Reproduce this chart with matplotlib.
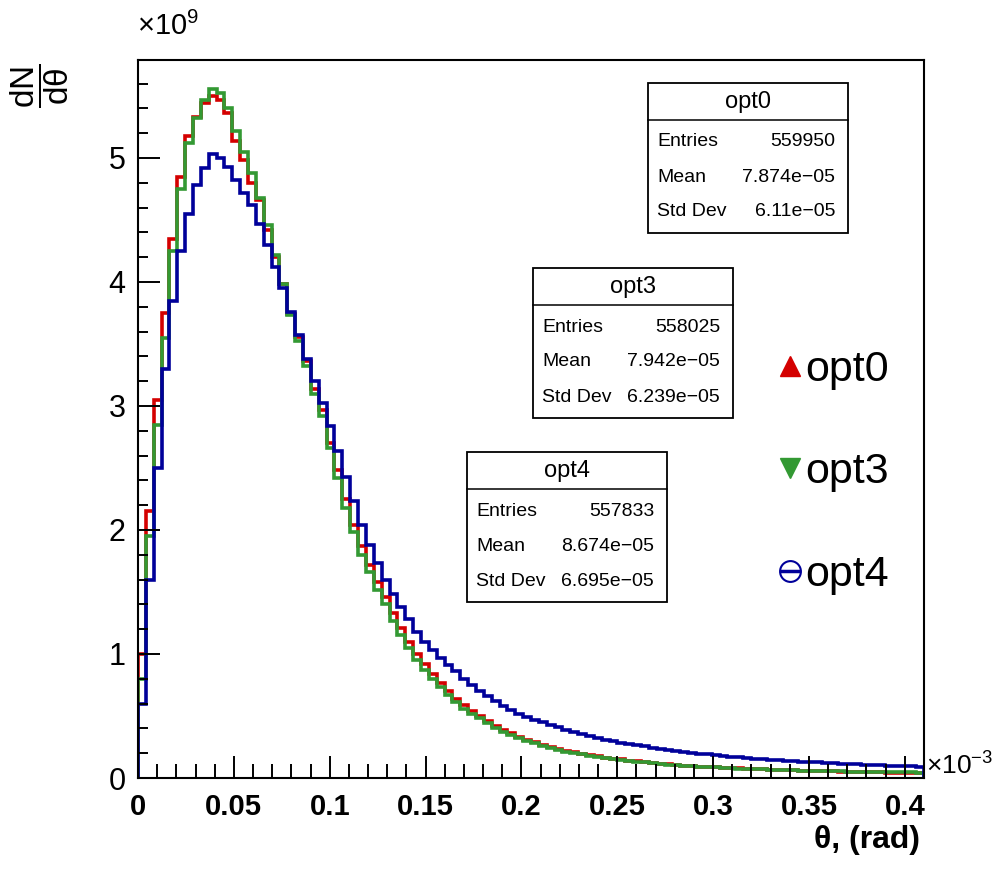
import numpy as np
import matplotlib
matplotlib.use('Agg')
import matplotlib.pyplot as plt
from matplotlib.lines import Line2D
from matplotlib.patches import Rectangle
from matplotlib.ticker import MultipleLocator, FormatStrFormatter

# theta range in units of 1e-3 rad, counts in units of 1e9
theta_lo = 0.0
theta_hi = 0.41
n_bins = 100

opt0 = [1.00, 2.15, 3.05, 3.75, 4.35, 4.85, 5.18, 5.33, 5.44, 5.50,
        5.47, 5.36, 5.14, 4.98, 4.80, 4.66, 4.42, 4.20, 3.98, 3.74,
        3.56, 3.36, 3.14, 2.97, 2.70, 2.48, 2.25, 2.04, 1.87, 1.72,
        1.58, 1.46, 1.33, 1.21, 1.10, 1.00, 0.92, 0.84, 0.77, 0.70,
        0.64, 0.59, 0.54, 0.50, 0.46, 0.42, 0.39, 0.36, 0.33, 0.31,
        0.29, 0.27, 0.25, 0.235, 0.22, 0.21, 0.195, 0.185, 0.175, 0.165,
        0.155, 0.15, 0.14, 0.135, 0.13, 0.12, 0.115, 0.11, 0.105, 0.10,
        0.098, 0.092, 0.09, 0.086, 0.082, 0.08, 0.077, 0.074, 0.072, 0.07,
        0.068, 0.066, 0.063, 0.062, 0.06, 0.058, 0.056, 0.055, 0.053, 0.052,
        0.05, 0.049, 0.047, 0.046, 0.045, 0.044, 0.043, 0.042, 0.041, 0.04]

opt3 = [0.80, 1.95, 2.85, 3.55, 4.25, 4.75, 5.12, 5.32, 5.47, 5.56,
        5.52, 5.40, 5.22, 5.05, 4.88, 4.68, 4.46, 4.22, 3.98, 3.73,
        3.52, 3.32, 3.10, 2.92, 2.66, 2.42, 2.18, 1.98, 1.80, 1.66,
        1.52, 1.40, 1.27, 1.15, 1.05, 0.95, 0.87, 0.80, 0.73, 0.67,
        0.61, 0.56, 0.52, 0.48, 0.44, 0.40, 0.37, 0.345, 0.32, 0.30,
        0.28, 0.26, 0.24, 0.225, 0.21, 0.20, 0.19, 0.18, 0.17, 0.16,
        0.152, 0.145, 0.138, 0.13, 0.125, 0.118, 0.112, 0.108, 0.103, 0.099,
        0.095, 0.091, 0.088, 0.085, 0.082, 0.079, 0.076, 0.074, 0.071, 0.069,
        0.067, 0.065, 0.063, 0.061, 0.06, 0.058, 0.057, 0.055, 0.054, 0.053,
        0.052, 0.051, 0.05, 0.049, 0.048, 0.047, 0.046, 0.046, 0.045, 0.044]

opt4 = [0.60, 1.60, 2.50, 3.30, 3.85, 4.25, 4.55, 4.78, 4.92, 5.03,
        5.00, 4.93, 4.82, 4.72, 4.62, 4.47, 4.30, 4.12, 3.95, 3.76,
        3.57, 3.38, 3.20, 3.02, 2.84, 2.64, 2.43, 2.23, 2.04, 1.88,
        1.73, 1.60, 1.48, 1.38, 1.28, 1.18, 1.10, 1.03, 0.97, 0.91,
        0.86, 0.80, 0.75, 0.70, 0.66, 0.62, 0.58, 0.55, 0.52, 0.49,
        0.47, 0.45, 0.43, 0.41, 0.39, 0.37, 0.355, 0.34, 0.325, 0.31,
        0.30, 0.285, 0.275, 0.265, 0.255, 0.245, 0.235, 0.225, 0.218, 0.21,
        0.203, 0.196, 0.19, 0.184, 0.178, 0.172, 0.167, 0.162, 0.157, 0.153,
        0.148, 0.144, 0.14, 0.136, 0.132, 0.128, 0.125, 0.122, 0.119, 0.116,
        0.113, 0.11, 0.107, 0.104, 0.102, 0.10, 0.098, 0.096, 0.094, 0.092]

names = ['opt0', 'opt3', 'opt4']
entries = ['559950', '558025', '557833']
means = ['7.874e\u221205', '7.942e\u221205', '8.674e\u221205']
stddevs = ['6.11e\u221205', '6.239e\u221205', '6.695e\u221205']
colors = ['#d40000', '#339933', '#00009a']

plt.rcParams['font.family'] = ['Liberation Sans', 'DejaVu Sans']
plt.rcParams['mathtext.fontset'] = 'custom'
plt.rcParams['mathtext.rm'] = 'Liberation Sans'
plt.rcParams['mathtext.it'] = 'Liberation Sans'

W, H = 1000, 888
fig = plt.figure(figsize=(W / 100, H / 100), dpi=100)
ax = fig.add_axes([138 / W, 1 - 778 / H, 786 / W, 718 / H])

edges = np.linspace(theta_lo, theta_hi, n_bins + 1)
for vals, c in zip([opt0, opt3, opt4], colors):
    ax.stairs(vals, edges, color=c, lw=2.6)

ax.set_xlim(theta_lo, theta_hi)
ax.set_ylim(0, 5.79)

ax.xaxis.set_major_locator(MultipleLocator(0.05))
ax.xaxis.set_minor_locator(MultipleLocator(0.01))
ax.xaxis.set_major_formatter(FormatStrFormatter('%g'))
ax.yaxis.set_major_locator(MultipleLocator(1))
ax.yaxis.set_minor_locator(MultipleLocator(0.2))
ax.tick_params(which='both', direction='in', top=False, right=False, width=1.4, colors='black')
ax.tick_params(axis='x', which='major', length=16, labelsize=21, pad=11)
ax.tick_params(axis='x', which='minor', length=10)
ax.tick_params(axis='y', which='major', length=16, labelsize=22, pad=9)
ax.tick_params(axis='y', which='minor', length=7)
for lab in ax.get_xticklabels():
    lab.set_fontweight('bold')
for s in ax.spines.values():
    s.set_linewidth(1.5)

# exponent labels like ROOT
fig.text(137 / W, 1 - 26 / H, '\u00d710$^{9}$', fontsize=21, ha='left', va='center')
fig.text(926 / W, 1 - 766 / H, '\u00d710$^{\u22123}$', fontsize=19, ha='left', va='center')

# axis titles
fig.text(40 / W, 1 - 86 / H, r'$\dfrac{\mathrm{dN}}{\mathrm{d}\theta}$', fontsize=24,
         rotation=90, ha='center', va='center')
fig.text(920 / W, 1 - 840 / H, '\u03b8, (rad)', fontsize=23, fontweight='bold',
         ha='right', va='center')

# stats boxes
def stats_box(x0, y0, title, ent, mean, std):
    w, h = 200, 150
    fig.add_artist(Rectangle((x0 / W, 1 - (y0 + h) / H), w / W, h / H,
                             transform=fig.transFigure, fc='white', ec='black', lw=1.3))
    fig.add_artist(Line2D([x0 / W, (x0 + w) / W], [1 - (y0 + 37) / H] * 2,
                          transform=fig.transFigure, color='black', lw=1.1))
    fig.text((x0 + w / 2) / W, 1 - (y0 + 19) / H, title, fontsize=17, ha='center', va='center')
    rows = [('Entries', ent), ('Mean', mean), ('Std Dev', std)]
    for k, (lab, val) in enumerate(rows):
        yy = y0 + 59 + k * 35
        fig.text((x0 + 9) / W, 1 - yy / H, lab, fontsize=14, ha='left', va='center')
        fig.text((x0 + w - 13) / W, 1 - yy / H, val, fontsize=14, ha='right', va='center')

box_pos = [(648, 83), (533, 268), (467, 452)]
for i in range(3):
    stats_box(box_pos[i][0], box_pos[i][1], names[i], entries[i], means[i], stddevs[i])

# legend
h0 = Line2D([], [], ls='none', marker='^', ms=15, color=colors[0])
h3 = Line2D([], [], ls='none', marker='v', ms=15, color=colors[1])
h4a = Line2D([], [], ls='none', marker='o', ms=15, mfc='none', mec=colors[2], mew=1.5)
h4b = Line2D([], [], ls='none', marker='_', ms=14, mec=colors[2], mew=2.5)
leg = ax.legend([h0, h3, (h4a, h4b)], names, loc='upper left',
                bbox_to_anchor=(779 / W, 1 - 350 / H), bbox_transform=fig.transFigure,
                frameon=False, fontsize=31, handlelength=0.5, handletextpad=0.1,
                labelspacing=1.45, borderpad=0, borderaxespad=0)

fig.savefig('out.png', dpi=100)
